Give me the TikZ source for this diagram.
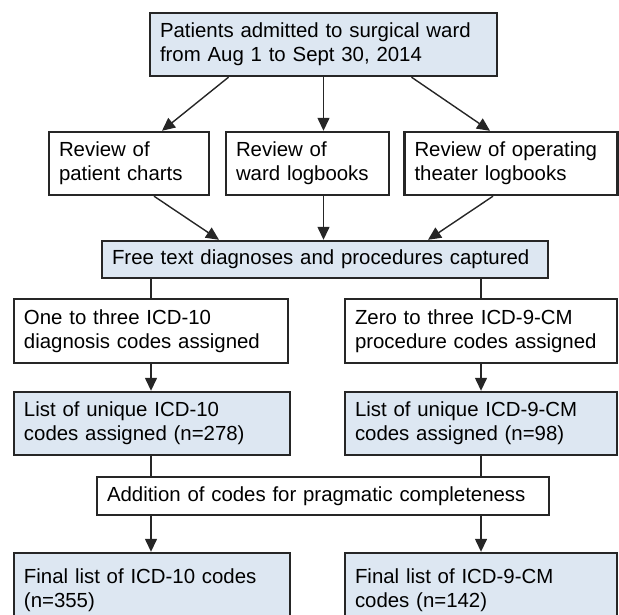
\documentclass[tikz,border=0pt]{standalone}
\usepackage{fontspec}
\setmainfont{Liberation Sans}
\usepackage{xcolor}
\usepackage{tikz}
\usetikzlibrary{arrows.meta, positioning}
\definecolor{boxblue}{RGB}{221,231,242}

\begin{document}
\begin{tikzpicture}[x=0.5pt, y=-0.5pt,
  box/.style={draw=black!85, line width=1.2pt, inner xsep=5pt, inner ysep=2pt,
    align=left, font=\fontsize{10.2}{11.9}\selectfont},
  shaded/.style={box, fill=boxblue},
  arr/.style={-{Triangle[length=6.5pt,width=6pt]}, line width=0.7pt, draw=black!85},
  link/.style={line width=0.7pt, draw=black!85}]
\useasboundingbox (0,0) rectangle (619,614);
\clip (0,0) rectangle (619,614);
\node[shaded, text width=163.5pt, minimum height=31.5pt] (top) at (323.5,44.5)
  {Patients admitted to surgical ward\\from Aug 1 to Sept 30, 2014};
\node[box, text width=70pt, minimum height=31.5pt] (charts) at (129,163.5)
  {Review of\\patient charts};
\node[box, text width=71.5pt, minimum height=31.5pt] (wardlog) at (307.5,163.5)
  {Review of\\ward logbooks};
\node[box, text width=96.5pt, minimum height=31.5pt] (theater) at (511,163.5)
  {Review of operating\\theater logbooks};
\node[shaded, text width=213pt, minimum height=18.5pt] (freetext) at (325,259.5)
  {Free text diagnoses and procedures captured};
\node[box, text width=127pt, minimum height=32pt] (diag) at (151,331)
  {One to three ICD-10\\diagnosis codes assigned};
\node[box, text width=126pt, minimum height=32pt] (proc) at (481,331)
  {Zero to three ICD-9-CM\\procedure codes assigned};
\node[shaded, text width=128pt, minimum height=31.5pt] (list10) at (152,423.5)
  {List of unique ICD-10\\codes assigned (n=278)};
\node[shaded, text width=126pt, minimum height=31.5pt] (list9) at (481,423.5)
  {List of unique ICD-9-CM\\codes assigned (n=98)};
\node[box, text width=216pt, minimum height=19pt] (addition) at (323,496)
  {Addition of codes for pragmatic completeness};
\node[shaded, text width=128pt, minimum height=37pt] (final10) at (152,590)
  {Final list of ICD-10 codes\\(n=355)};
\node[shaded, text width=126pt, minimum height=37pt] (final9) at (481,590)
  {Final list of ICD-9-CM\\codes (n=142)};
% sources to reviews
\draw[arr] ([xshift=-47.5pt]top.south) -- ([xshift=16.5pt]charts.north);
\draw[arr] (top.south) -- (top.south |- wardlog.north);
\draw[arr] ([xshift=44pt]top.south) -- ([xshift=-10.5pt]theater.north);
\draw[arr] ([xshift=12.5pt]charts.south) -- ([xshift=-53pt]freetext.north);
\draw[arr] (top.south |- wardlog.south) -- (top.south |- freetext.north);
\draw[arr] ([xshift=-9pt]theater.south) -- ([xshift=51.5pt]freetext.north);
% coding
\draw[link] (diag.north |- freetext.south) -- (diag.north);
\draw[link] (proc.north |- freetext.south) -- (proc.north);
\draw[arr] (diag.south) -- (diag.south |- list10.north);
\draw[arr] (proc.south) -- (proc.south |- list9.north);
\draw[link] (diag.south |- list10.south) -- (diag.south |- addition.north);
\draw[link] (proc.south |- list9.south) -- (proc.south |- addition.north);
\draw[arr] (diag.south |- addition.south) -- (diag.south |- final10.north);
\draw[arr] (proc.south |- addition.south) -- (proc.south |- final9.north);
\end{tikzpicture}
\end{document}
